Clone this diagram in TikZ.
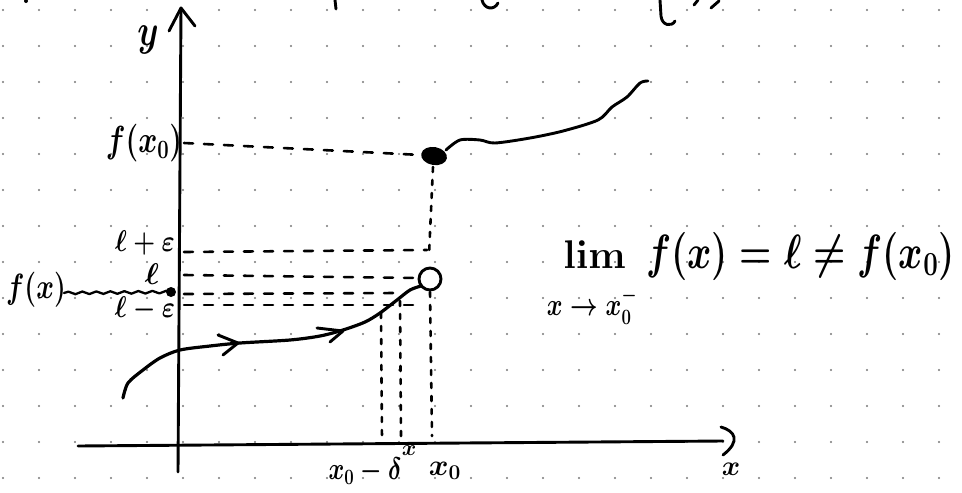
\documentclass[tikz,border=0pt]{standalone}
\usepackage{fix-cm}
\usepackage{amsmath}
\usepackage{graphicx}
\usetikzlibrary{decorations.pathmorphing}
\definecolor{griddot}{RGB}{120,120,120}
\newcommand{\tallbox}[2]{\scalebox{1}[#1]{#2}}
\tikzset{
  ink/.style={line width=2.9pt, line cap=round, line join=round, black},
  dashline/.style={ink, line width=2.6pt, dash pattern=on 9pt off 11pt},
  dotline/.style={ink, line width=2.6pt, dash pattern=on 5pt off 8pt},
  txt/.style={inner sep=0pt, font=\fontsize{#1}{#1}\selectfont\boldmath},
}
\begin{document}
\begin{tikzpicture}[x=1pt,y=-1pt]
\useasboundingbox (0,0) rectangle (962,493);
\fill[white] (0,0) rectangle (962,493);
% dot grid
\foreach \i in {0,...,26}{\foreach \j in {0,...,13}{
  \fill[griddot] (3+36*\i,10+36*\j) circle (1.1);}}
% cut-off strokes at top
\fill (26,1) circle (2);
\draw[ink] (335,0) -- (336,9);
\draw[ink] (482,0) .. controls (484,9) and (494,11) .. (498,3);
\draw[ink] (660,0) -- (661,16) .. controls (662,26) and (672,27) .. (675,21);
\draw[ink] (694,5) -- (698,0);
\draw[ink] (711,8) -- (719,1);
% axes
\coordinate (ybot) at (178,472);
\coordinate (ytip) at (181,8);
\coordinate (xleft) at (78,446);
\coordinate (xright) at (723,441);
\draw[ink] (ybot) -- (ytip);
\draw[ink] (169,31) -- (ytip) -- (195,26);
\draw[ink] (xleft) -- (xright);
\draw[ink] (721,427) .. controls (735,431) and (741,441) .. (723,455);
\node[txt=34] (ylab) at (148,40) {\tallbox{1.3}{$y$}};
\node[txt=28] (xlab) at (731,469) {$x$};
% function value at x0
\node[txt=29] (fx0) at (144,143) {\tallbox{1.3}{$f(x_0)$}};
\coordinate (dot) at (434,156);
\coordinate (dotW) at (421,155);
\coordinate (dotS) at (433,167);
\fill[rotate around={-10:(dot)}] (dot) ellipse (13 and 9);
\draw[ink] plot[smooth] coordinates {(446,150) (460,140) (480,140) (495,143) (530,138) (563,131) (598,120) (612,107) (627,97) (640,83) (648,81)};
\draw[dashline] (184,143) -- (dotW);
% open circle
\coordinate (hole) at (430,279);
\coordinate (holeW) at (418,278);
\coordinate (holeS) at (430,292);
\coordinate (holeSW) at (421,286);
% y-labels and horizontal dashed lines
\node[txt=25] (lpe) at (145,243) {\tallbox{1.2}{$\ell+\varepsilon$}};
\node[txt=30] (l) at (152,274) {$\ell$};
\node[txt=25] (lme) at (145,309) {\tallbox{1.2}{$\ell-\varepsilon$}};
\node[txt=27] (fx) at (36,290) {\tallbox{1.3}{$f(x)$}};
\draw[dashline] (184,252) -- (427,250);
\draw[dashline] (184,275) -- (holeW);
\draw[dashline] (184,294) -- (398,293);
\draw[dashline] (184,305) -- (424,305);
\coordinate (blob) at (171,292);
\draw[ink, line width=2.3pt, decorate, decoration={snake, amplitude=1.3pt, segment length=14pt}] (64,293) -- (blob);
\fill (blob) circle (5);
\draw[dotline] (dotS) -- (429,255);
\draw[dotline] (holeS) -- (432,436);
% left branch
\draw[ink, line width=3.2pt] plot[smooth] coordinates {(123,398) (128,383) (143,370) (160,358) (180,350) (210,346) (240,343) (290,340) (320,336) (343,330) (365,322) (380,313) (397,300) (410,290) (holeSW)};
\draw[ink, fill=white] (hole) circle (11);
\draw[ink] (218,335) -- (238,343) -- (223,355);
\draw[ink] (317,328) -- (343,331) -- (330,342);
% vertical dashed lines
\draw[dotline] (381,313) -- (382,440);
\draw[dotline] (400,301) -- (401,436);
% x labels
\node[txt=24] (x0d) at (365,471) {\tallbox{1.3}{$x_0-\delta$}};
\node[txt=22] (xx) at (409,451) {$x$};
\node[txt=30] (x0) at (445,471) {$x_0$};
% limit
\node[txt=40, anchor=base east] (lim) at (626,268) {$\lim$};
\node[txt=24] (limsub) at (592,306) {\tallbox{1.3}{$x\to x_0^-$}};
\node[txt=37, anchor=base west] (limrest) at (646,268) {\tallbox{1.3}{$f(x)=\ell\neq f(x_0)$}};
\end{tikzpicture}
\end{document}
